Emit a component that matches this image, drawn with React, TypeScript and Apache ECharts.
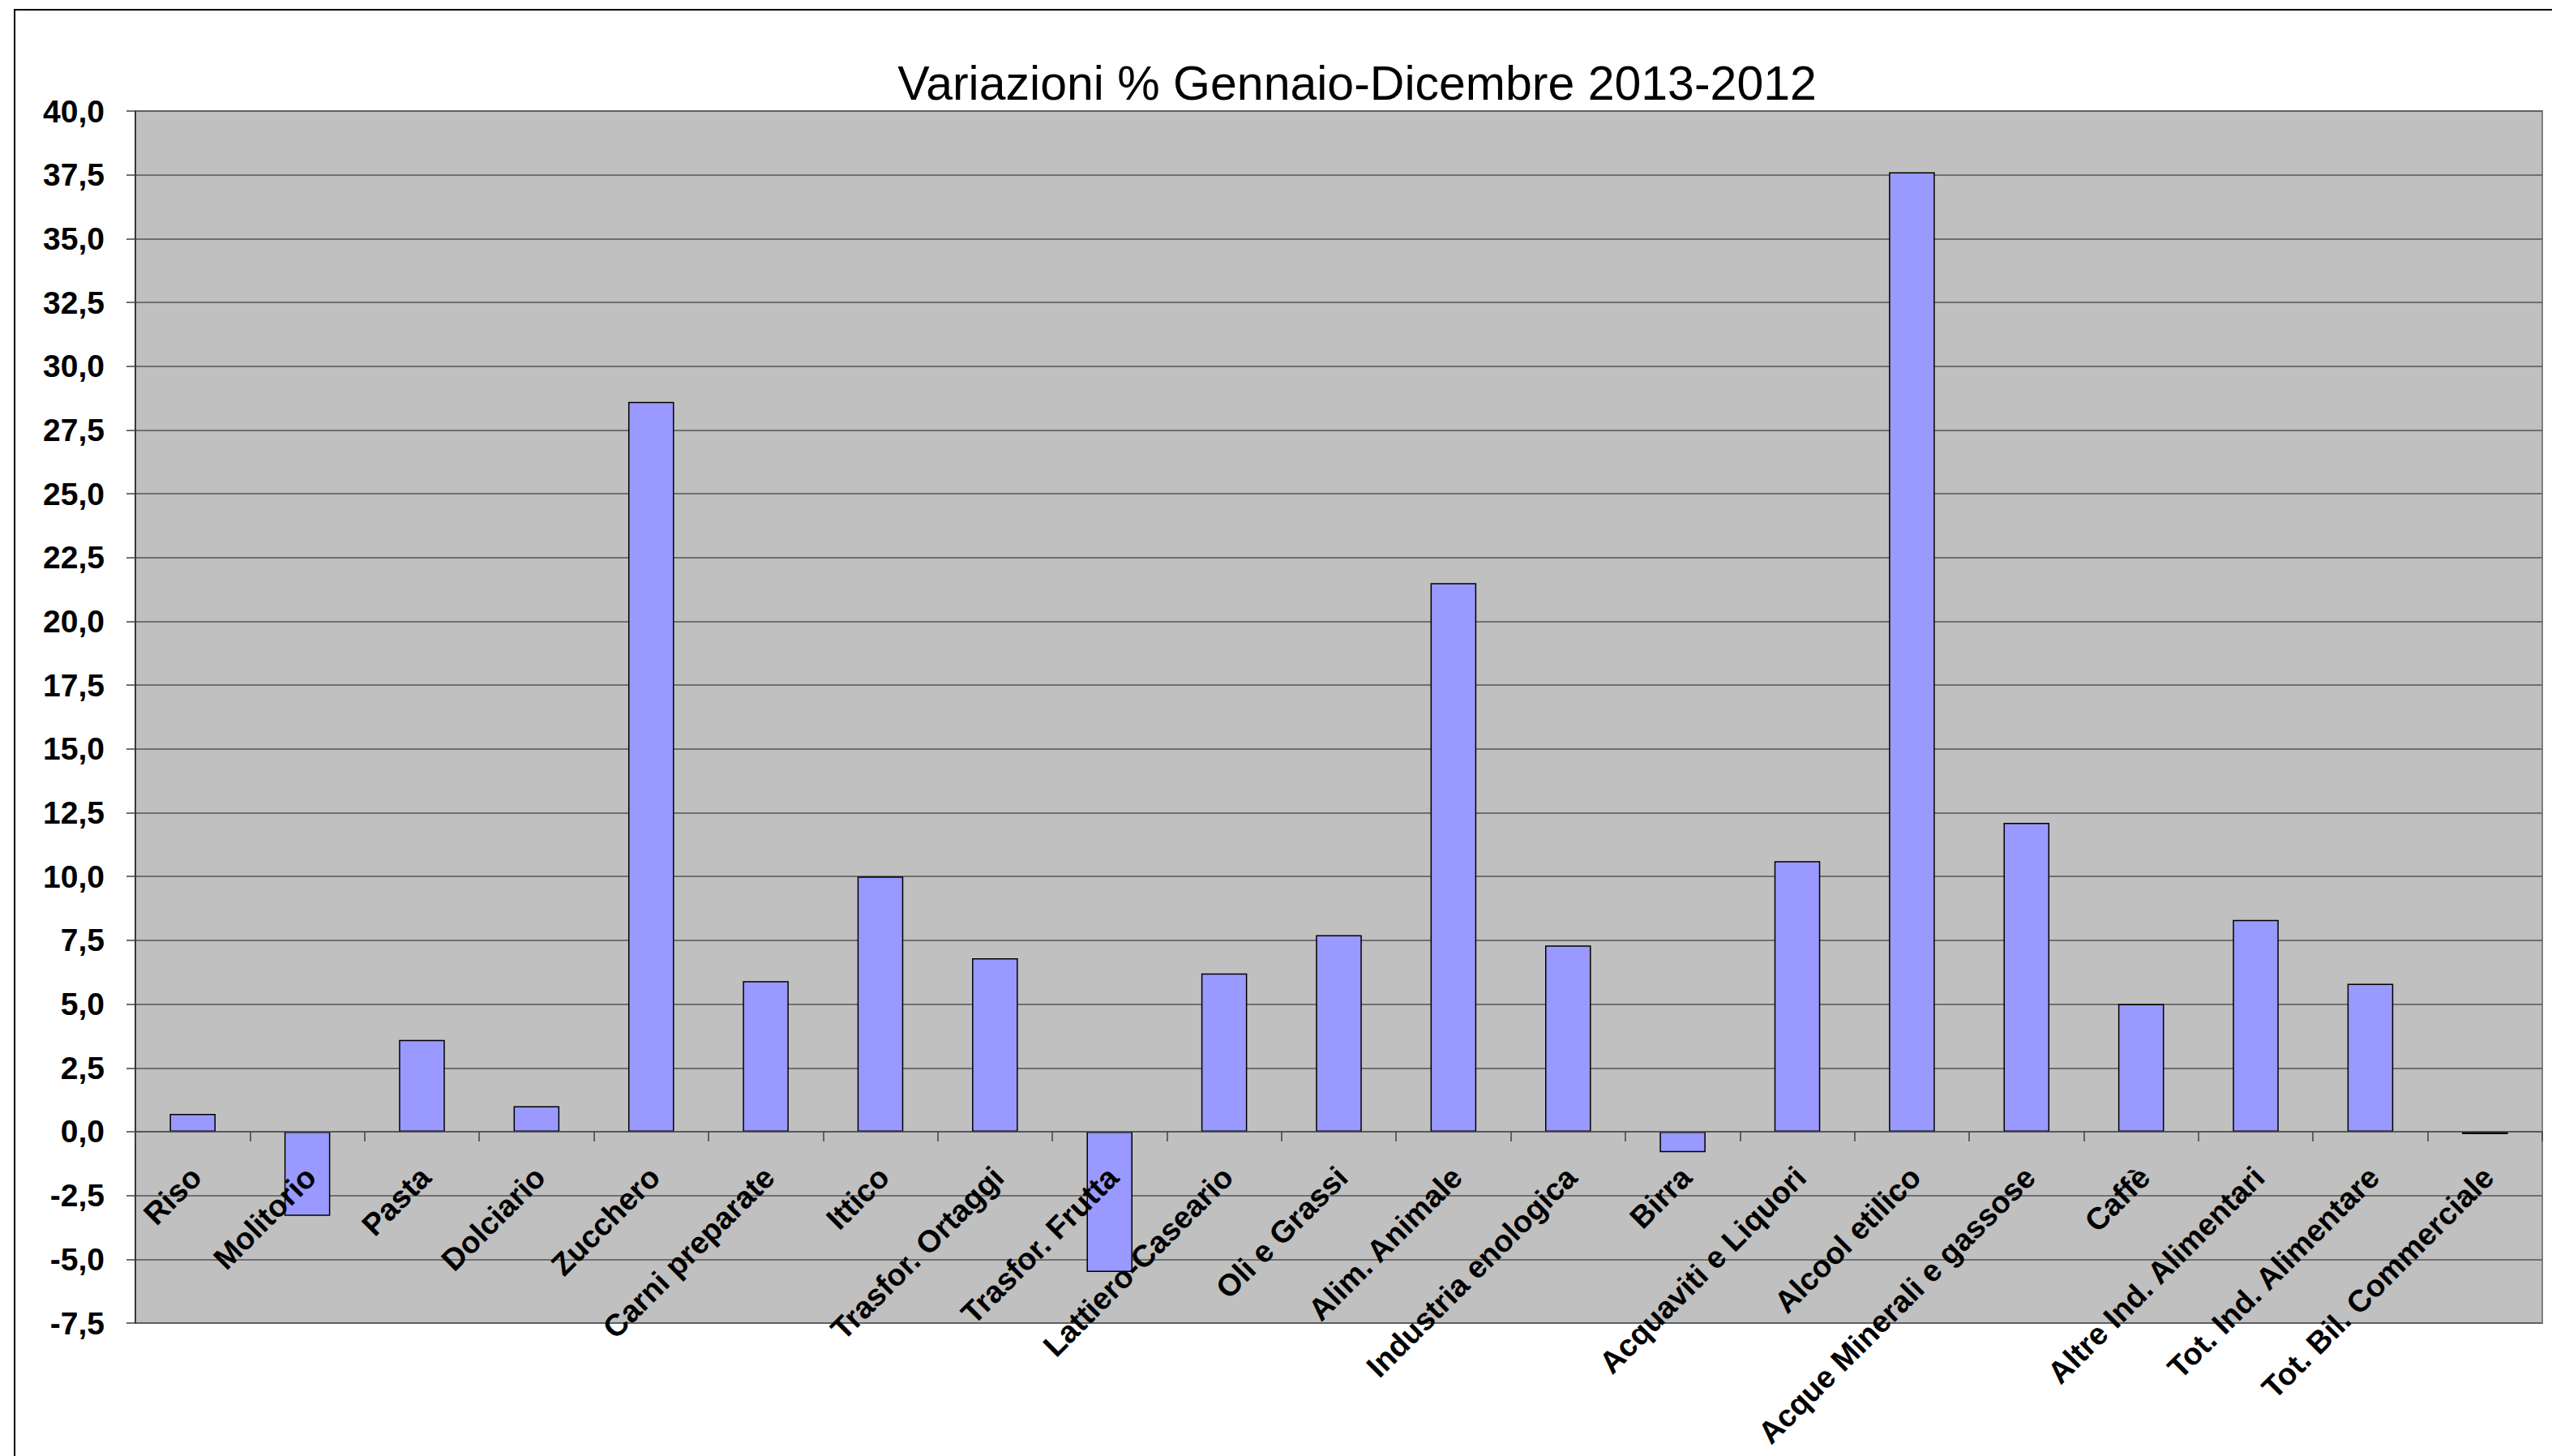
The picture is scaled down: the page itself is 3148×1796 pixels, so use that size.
import React, { useEffect, useRef } from "react";
import * as echarts from "echarts";

const categories = [
  "Riso",
  "Molitorio",
  "Pasta",
  "Dolciario",
  "Zucchero",
  "Carni preparate",
  "Ittico",
  "Trasfor. Ortaggi",
  "Trasfor. Frutta",
  "Lattiero-Caseario",
  "Oli e Grassi",
  "Alim. Animale",
  "Industria enologica",
  "Birra",
  "Acquaviti e Liquori",
  "Alcool etilico",
  "Acque Minerali e gassose",
  "Caffè",
  "Altre Ind. Alimentari",
  "Tot. Ind. Alimentare",
  "Tot. Bil. Commerciale",
];

const variations = [
  0.7, -3.3, 3.6, 1.0, 28.6, 5.9, 10.0, 6.8, -5.5, 6.2, 7.7, 21.5, 7.3, -0.8,
  10.6, 37.6, 12.1, 5.0, 8.3, 5.8, -0.1,
];

const titleText = "Variazioni % Gennaio-Dicembre 2013-2012";
const yMin = -7.5;
const yMax = 40;
const yStep = 2.5;

export default function App() {
  const ref = useRef<HTMLDivElement>(null);

  useEffect(() => {
    if (!ref.current) return;
    const chart = echarts.init(ref.current, undefined, { renderer: "svg" });
    const font = "'Liberation Sans', Arial, sans-serif";
    chart.setOption({
      animation: false,
      backgroundColor: "#ffffff",
      title: {
        text: titleText,
        left: 1669,
        top: 68,
        textAlign: "center",
        textStyle: {
          fontFamily: font,
          fontSize: 59,
          fontWeight: "normal",
          color: "#000000",
        },
      },
      graphic: [
        {
          type: "rect",
          z: -10,
          shape: { x: 18, y: 12, width: 3300, height: 2000 },
          style: { fill: "none", stroke: "#000000", lineWidth: 2 },
        },
      ],
      grid: {
        left: 167,
        right: 12,
        top: 137,
        bottom: 164,
        show: true,
        backgroundColor: "#C0C0C0",
        borderColor: "#808080",
        borderWidth: 2,
        containLabel: false,
        outerBoundsMode: "none",
      },
      xAxis: {
        type: "category",
        data: categories,
        z: 5,
        axisLine: {
          onZero: true,
          lineStyle: { color: "#505050", width: 1.5 },
        },
        axisTick: {
          show: true,
          inside: false,
          length: 12,
          lineStyle: { color: "#404040", width: 1.5 },
        },
        axisLabel: {
          interval: 0,
          rotate: 45,
          margin: -182,
          padding: [0, -6, 0, 0],
          fontFamily: font,
          fontSize: 38,
          fontWeight: "bold",
          color: "#000000",
        },
      },
      yAxis: {
        type: "value",
        min: yMin,
        max: yMax,
        interval: yStep,
        axisLine: { show: true, lineStyle: { color: "#202020", width: 1.5 } },
        axisTick: {
          show: true,
          inside: false,
          length: 11,
          lineStyle: { color: "#404040", width: 1.5 },
        },
        splitLine: { lineStyle: { color: "#555555", width: 1.5 } },
        axisLabel: {
          margin: 38,
          fontFamily: font,
          fontSize: 39,
          fontWeight: "bold",
          color: "#000000",
          formatter: (v: number) => v.toFixed(1).replace(".", ","),
        },
      },
      series: [
        {
          type: "bar",
          data: variations,
          barCategoryGap: "60%",
          itemStyle: {
            color: "#9999FF",
            borderColor: "#000000",
            borderWidth: 1.5,
          },
        },
      ],
    });
    return () => chart.dispose();
  }, []);

  return (
    <div
      ref={ref}
      style={{ position: "fixed", left: 0, top: 0, width: 3148, height: 1796 }}
    />
  );
}
